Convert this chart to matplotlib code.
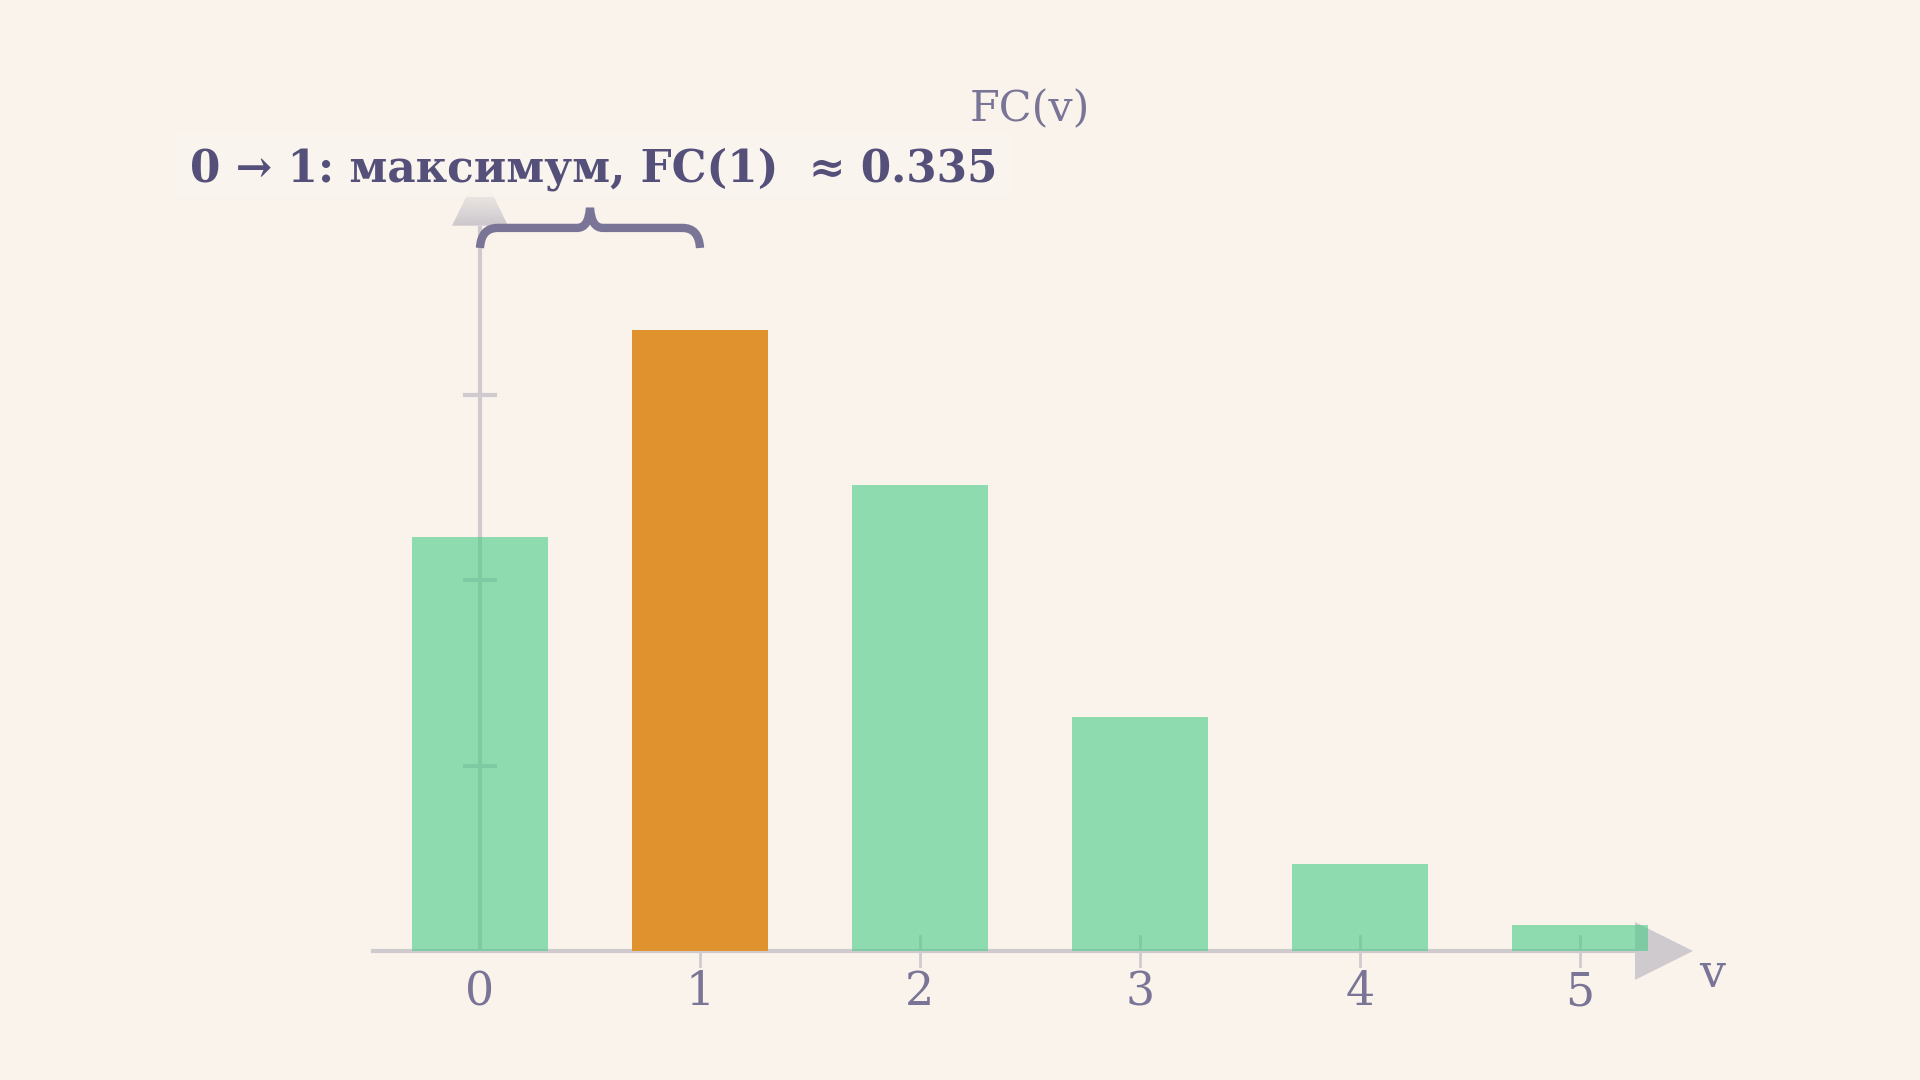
#Imports and definitions
import numpy as np
from matplotlib import pyplot as plt
from matplotlib.path import Path
from matplotlib.patches import PathPatch, Polygon, Rectangle

#Data
v = [0, 1, 2, 3, 4, 5]
fc = [0.223, 0.335, 0.251, 0.126, 0.047, 0.014]
tick_labels = ['0', '1', '2', '3', '4', '5']
highlight = 1
y_ticks = [0.1, 0.2, 0.3]
title = '0 → 1: максимум, FC(1)  ≈ 0.335'

bg = '#faf3ec'
green = '#48cc88'
orange = '#e0922e'
axis_col = '#cfcacd'
text_dark = '#55507a'
text_light = '#7a7596'

plt.rcParams['font.family'] = ['DejaVu Serif', 'DejaVu Sans']

fig = plt.figure(figsize=(19.2, 10.8), dpi=100, facecolor=bg)
ax = fig.add_axes([0, 0, 1, 1])
ax.set_facecolor(bg)
ax.set_xlim(-480 / 220, 1440 / 220)
ax.set_ylim((951 - 1080) / 1855, 951 / 1855)
ax.axis('off')

#axes drawn by hand (under the bars)
x_end = 5.25
y_end = 0.391
ax.plot([-0.495, x_end], [0, 0], color=axis_col, lw=3, zorder=1, solid_capstyle='butt')
ax.plot([0, 0], [0, y_end], color=axis_col, lw=3, zorder=1, solid_capstyle='butt')
ax.add_patch(Polygon([[x_end, -0.0156], [x_end + 0.264, 0], [x_end, 0.0156]],
                     closed=True, color=axis_col, lw=0, zorder=1))
for t in v[1:]:
    ax.plot([t, t], [-0.008, 0.008], color=axis_col, lw=2, zorder=1)
for t in y_ticks:
    ax.plot([-0.068, 0.068], [t, t], color=axis_col, lw=3, zorder=1)

#y arrow, fading towards the top
tri = Polygon([[-0.127, y_end], [0.127, y_end], [0, y_end + 0.031]], closed=True,
              facecolor='none', edgecolor='none')
ax.add_patch(tri)
grad = np.linspace(0, 1, 100)
rgba = np.zeros((100, 1, 4))
rgba[..., :3] = np.array([0xcc, 0xc7, 0xcc]) / 255
rgba[:, 0, 3] = np.clip(1 - grad * 1.3, 0, 1)
img = ax.imshow(rgba, extent=[-0.127, 0.127, y_end, y_end + 0.031], origin='lower',
                aspect='auto', zorder=1)
img.set_clip_path(tri)

#bars
colors = [orange if i == highlight else green for i in v]
alphas = [1.0 if i == highlight else 0.6 for i in v]
for i in v:
    ax.bar(v[i], fc[i], width=0.62, color=colors[i], alpha=alphas[i], lw=0, zorder=2)

#tick labels
for i in v:
    ax.text(v[i], -0.0225, tick_labels[i], ha='center', va='center',
            fontsize=33, color=text_light)
ax.text(5.6, -0.0125, 'v', ha='center', va='center', fontsize=33, color=text_light)
ax.text(2.5, 0.4535, 'FC(v)', ha='center', va='center', fontsize=31, color=text_light)

#title with its faint box
ax.add_patch(Rectangle((-1.386, 0.4065), 3.8, 0.0345, facecolor=bg, alpha=0.9,
                       lw=0, zorder=3))
ax.add_patch(Rectangle((-1.386, 0.4065), 3.8, 0.0345, facecolor='#ffffff', alpha=0.12,
                       lw=0, zorder=3))
ax.text(-1.318, 0.4146, title, ha='left', va='baseline', fontsize=31.5,
        fontweight='bold', color=text_dark, zorder=4)

#brace from bar 0 to bar 1
yb = 0.3898
h = 0.0108
verts = [(0, yb - h), (0.005, yb), (0.08, yb),
         (0.08, yb),
         (0.44, yb),
         (0.48, yb), (0.495, yb + 0.004), (0.5, yb + h),
         (0.505, yb + 0.004), (0.52, yb), (0.56, yb),
         (0.92, yb),
         (0.92, yb), (0.995, yb), (1.0, yb - h)]
codes = [Path.MOVETO, Path.CURVE3, Path.CURVE3,
         Path.LINETO,
         Path.LINETO,
         Path.CURVE4, Path.CURVE4, Path.CURVE4,
         Path.CURVE4, Path.CURVE4, Path.CURVE4,
         Path.LINETO,
         Path.LINETO, Path.CURVE3, Path.CURVE3]
ax.add_patch(PathPatch(Path(verts, codes), facecolor='none', edgecolor=text_light,
                       lw=6, capstyle='butt', zorder=3))

plt.savefig('out.png', dpi=100, facecolor=bg)
